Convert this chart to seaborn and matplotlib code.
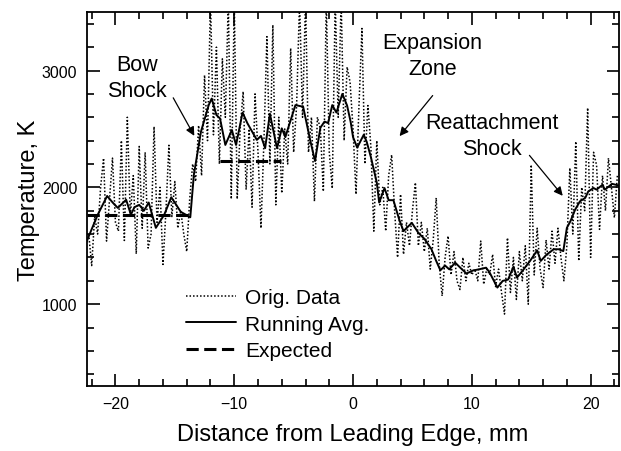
import numpy as np
import matplotlib
matplotlib.use('Agg')
import matplotlib.pyplot as plt
from matplotlib.ticker import MultipleLocator
import seaborn as sns

# original (unsmoothed) temperature samples, 0.25 mm apart starting at -22.25 mm
orig_y = [1600, 1330, 1750, 1600,
          2000, 2250, 1540, 1900,
          2250, 1700, 1625, 2400,
          1545, 2600, 1750, 2100,
          1430, 2350, 1650, 2300,
          1480, 1600, 2520, 1700,
          2000, 1340, 1800, 2360,
          1750, 2050, 1650, 1800,
          1600, 1450, 1900, 2200,
          2050, 2530, 2100, 2960,
          2400, 3600, 2450, 3200,
          2200, 3100, 2600, 3600,
          1900, 3600, 1900, 2500,
          2820, 1980, 2500, 1830,
          2800, 2300, 1650, 2400,
          3290, 2200, 3390, 1850,
          2600, 1950, 2500, 2200,
          3190, 2300, 2700, 3600,
          2600, 3600, 2300, 2600,
          1880, 2600, 2500, 1965,
          3600, 2300, 1990, 3600,
          2600, 3600, 2400, 3030,
          2900, 2500, 1940, 2700,
          3360, 2200, 2700, 2350,
          1625, 2400, 1850, 2000,
          1625, 2100, 2278, 1800,
          1400, 1940, 1426, 1700,
          1500, 1800, 2040, 1500,
          1700, 1450, 1650, 1300,
          1550, 1910, 1350, 1070,
          1400, 1583, 1250, 1450,
          1200, 1125, 1400, 1200,
          1350, 1250, 1300, 1200,
          1540, 1170, 1300, 1250,
          1426, 1150, 1300, 1100,
          915, 1568, 1100, 1400,
          1040, 1450, 1200, 1500,
          1000, 2193, 1250, 1650,
          1300, 1142, 1550, 1300,
          1625, 1350, 1650, 1400,
          1200, 1500, 2165, 1600,
          2392, 1370, 2000, 1800,
          2680, 1400, 2300, 2190,
          1640, 2100, 1800, 2250,
          2000, 1740, 2100]
orig_x = -22.25 + 0.25 * np.arange(len(orig_y))

# running average
avg_x = [-22.4, -22.3, -21.5, -20.7, -20.2, -19.8, -19.1, -18.7, -18.4, -18.0,
         -17.6, -17.2, -16.6, -15.9, -15.3, -14.5, -13.7, -13.4, -12.8, -12.15,
         -11.9, -11.5, -11.2, -10.75, -10.2, -9.85, -9.3, -8.9, -8.1, -7.75,
         -7.4, -7.0, -6.4, -6.0, -5.7, -4.85, -4.2, -3.6, -3.2, -2.75,
         -2.4, -2.1, -1.75, -1.4, -0.9, -0.5, -0.2, 0.0, 0.35, 0.9,
         1.15, 1.5, 2.0, 2.2, 2.65, 3.0, 3.4, 3.9, 4.25, 4.95,
         5.5, 6.0, 6.6, 7.0, 7.35, 7.75, 8.1, 8.6, 9.15, 9.55,
         10.1, 10.6, 11.2, 11.5, 12.15, 12.6, 13.05, 13.5, 13.8, 14.3,
         14.9, 15.5, 15.8, 16.3, 16.9, 17.3, 17.7, 18.0, 18.3, 18.7,
         19.1, 19.55, 19.8, 20.25, 20.5, 21.0, 21.2, 21.8, 22.4]
avg_y = [1540, 1568, 1764, 1926, 1866, 1824, 1894, 1766, 1830, 1850,
         1800, 1870, 1653, 1764, 1915, 1790, 1744, 2107, 2477, 2704,
         2760, 2619, 2590, 2363, 2491, 2363, 2640, 2550, 2406, 2440,
         2335, 2630, 2335, 2505, 2430, 2704, 2690, 2400, 2225, 2510,
         2563, 2550, 2704, 2640, 2800, 2700, 2560, 2430, 2340, 2450,
         2390, 2260, 2040, 1870, 1994, 1890, 1890, 1720, 1625, 1696,
         1610, 1560, 1470, 1370, 1290, 1330, 1298, 1355, 1300, 1262,
         1288, 1298, 1312, 1270, 1142, 1199, 1210, 1320, 1227, 1290,
         1370, 1460, 1370, 1425, 1470, 1470, 1454, 1653, 1710, 1810,
         1880, 1910, 1965, 1994, 1980, 2022, 1980, 2030, 2015]

# expected levels
exp1_x = [-22.4, -13.5]
exp1_y = [1760, 1760]
exp2_x = [-11.2, -6.1]
exp2_y = [2225, 2225]

sns.set_theme(style='ticks')
plt.rcParams['font.family'] = ['Liberation Sans', 'DejaVu Sans']
plt.rcParams['text.color'] = 'black'
plt.rcParams['axes.labelcolor'] = 'black'
plt.rcParams['xtick.color'] = 'black'
plt.rcParams['ytick.color'] = 'black'

fig, ax = plt.subplots(figsize=(6.21, 4.52), dpi=100)
fig.subplots_adjust(left=0.140, right=0.997, top=0.971, bottom=0.144)

sns.lineplot(x=orig_x, y=orig_y, ax=ax, color='black', lw=1.1,
             linestyle=(0, (1, 1.3)), estimator=None, sort=False, legend=False)
sns.lineplot(x=avg_x, y=avg_y, ax=ax, color='black', lw=1.4,
             estimator=None, sort=False, legend=False)
sns.lineplot(x=exp1_x, y=exp1_y, ax=ax, color='black', lw=2.2,
             linestyle=(0, (4, 1.8)), estimator=None, sort=False, legend=False)
sns.lineplot(x=exp2_x, y=exp2_y, ax=ax, color='black', lw=2.2,
             linestyle=(0, (4, 1.8)), estimator=None, sort=False, legend=False)

lines = ax.get_lines()
ax.legend([lines[0], lines[1], lines[2]], ['Orig. Data', 'Running Avg.', 'Expected'],
          loc='center left', bbox_to_anchor=(0.187, 0.165), frameon=False,
          fontsize=15, handlelength=2.4, handletextpad=0.4, labelspacing=0.36,
          borderpad=0, borderaxespad=0)

ax.set_xlim(-22.4, 22.4)
ax.set_ylim(300, 3500)
ax.set_xticks([-20, -10, 0, 10, 20])
ax.set_yticks([1000, 2000, 3000])
ax.xaxis.set_minor_locator(MultipleLocator(2))
ax.yaxis.set_minor_locator(MultipleLocator(200))
ax.tick_params(which='both', direction='in', top=True, right=True,
               color='black', labelcolor='black', labelsize=11.5, width=1.2)
ax.tick_params(which='major', length=9, pad=7)
ax.tick_params(which='minor', length=5)
for s in ax.spines.values():
    s.set_linewidth(1.3)
    s.set_color('black')

ax.set_xlabel('Distance from Leading Edge, mm', fontsize=17, labelpad=9)
ax.set_ylabel('Temperature, K', fontsize=17, labelpad=1)

arrow = dict(arrowstyle='-|>', color='black', lw=0.9, mutation_scale=13)
ax.text(-18.2, 2940, 'Bow\nShock', ha='center', va='center', fontsize=15.5, linespacing=1.3)
ax.annotate('', xy=(-13.25, 2420), xytext=(-15.25, 2787), arrowprops=arrow)
ax.text(6.7, 3130, 'Expansion\nZone', ha='center', va='center', fontsize=15.5, linespacing=1.35)
ax.annotate('', xy=(3.77, 2420), xytext=(6.85, 2804), arrowprops=arrow)
ax.text(11.7, 2446, 'Reattachment\nShock', ha='center', va='center', fontsize=15.5, linespacing=1.3)
ax.annotate('', xy=(17.8, 1909), xytext=(14.7, 2292), arrowprops=arrow)

plt.savefig('out.png', dpi=100)
